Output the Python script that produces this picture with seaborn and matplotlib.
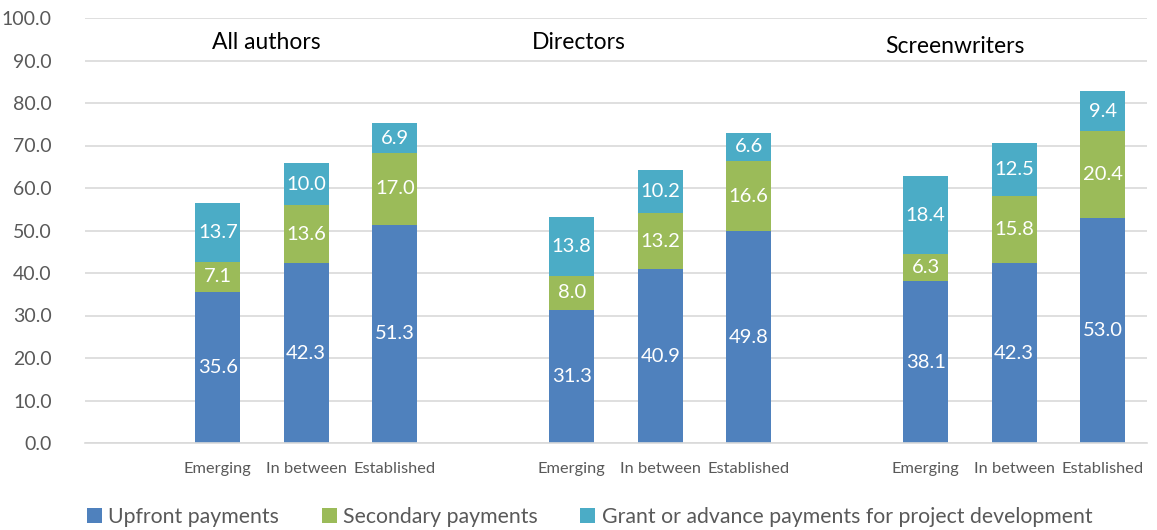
import pandas as pd
import numpy as np
import matplotlib
matplotlib.use('Agg')
import matplotlib.pyplot as plt
from matplotlib.patches import Patch
import seaborn as sns

# Chart data
groups = ['All authors', 'Directors', 'Screenwriters']
levels = ['Emerging', 'In between', 'Established']
upfront = [35.6, 42.3, 51.3, 31.3, 40.9, 49.8, 38.1, 42.3, 53.0]
secondary = [7.1, 13.6, 17.0, 8.0, 13.2, 16.6, 6.3, 15.8, 20.4]
grant = [13.7, 10.0, 6.9, 13.8, 10.2, 6.6, 18.4, 12.5, 9.4]
series_names = ['Upfront payments', 'Secondary payments',
                'Grant or advance payments for project development']
colors = ['#4F81BD', '#9BBB59', '#4BACC6']

sns.set_theme(style='white')
plt.rcParams['font.family'] = ['Lato', 'DejaVu Sans']

# Build the table; one empty slot before each group
rows = []
order = []
tick_labels = []
for gi, g in enumerate(groups):
    order.append(g + '|')
    tick_labels.append('')
    for li, lv in enumerate(levels):
        i = gi * 3 + li
        slot = g + '|' + lv
        order.append(slot)
        tick_labels.append(lv)
        rows.append({'slot': slot, 'upfront': upfront[i], 'secondary': secondary[i], 'grant': grant[i]})
df = pd.DataFrame(rows)
df['mid'] = df['upfront'] + df['secondary']
df['total'] = df['mid'] + df['grant']

fig, ax = plt.subplots(figsize=(11.57, 5.3), dpi=100)
fig.subplots_adjust(left=85/1157, right=1147/1157, bottom=1-443/530, top=1-18/530)

# Stacked bars drawn as cumulative layers
bar_kw = dict(order=order, width=0.51, saturation=1, linewidth=0, ax=ax)
sns.barplot(data=df, x='slot', y='total', color=colors[2], **bar_kw)
sns.barplot(data=df, x='slot', y='mid', color=colors[1], **bar_kw)
sns.barplot(data=df, x='slot', y='upfront', color=colors[0], **bar_kw)

# Segment labels
pos = {s: k for k, s in enumerate(order)}
for _, r in df.iterrows():
    x = pos[r['slot']]
    for lo, val in [(0, r['upfront']), (r['upfront'], r['secondary']), (r['mid'], r['grant'])]:
        ax.text(x, lo + val / 2, f'{val:.1f}', ha='center', va='center',
                color='white', fontsize=14.5)

# Group titles
ax.text(1.55, 94.3, groups[0], ha='center', va='center', fontsize=16.5, color='black')
ax.text(5.08, 94.3, groups[1], ha='center', va='center', fontsize=16.5, color='black')
ax.text(9.33, 93.4, groups[2], ha='center', va='center', fontsize=16.5, color='black')

ax.set_ylim(0, 100)
ax.set_xlim(-0.5, len(order) - 0.5)
ax.set_yticks(np.arange(0, 101, 10))
ax.set_yticklabels([f'{v:.1f}' for v in np.arange(0, 101, 10)], fontsize=14, color='#595959')
ax.set_xticks(range(len(order)))
ax.set_xticklabels(tick_labels, fontsize=11.8, color='#595959')
ax.tick_params(axis='x', length=0, pad=14)
ax.tick_params(axis='y', length=0, pad=24)
ax.set_xlabel('')
ax.set_ylabel('')
ax.yaxis.grid(True, color='#D9D9D9', linewidth=1.2)
ax.set_axisbelow(True)
for side in ['top', 'right', 'left']:
    ax.spines[side].set_visible(False)
ax.spines['bottom'].set_color('#D9D9D9')
ax.spines['bottom'].set_linewidth(1.2)

handles = [Patch(facecolor=c, edgecolor='none') for c in colors]
fig.legend(handles, series_names, loc='lower left', bbox_to_anchor=(68/1157, -0.03), ncol=3,
           frameon=False, fontsize=15.3, handlelength=0.7, handleheight=0.7,
           handletextpad=0.3, columnspacing=2.0, labelcolor='#595959')

fig.savefig('out.png', dpi=100)
